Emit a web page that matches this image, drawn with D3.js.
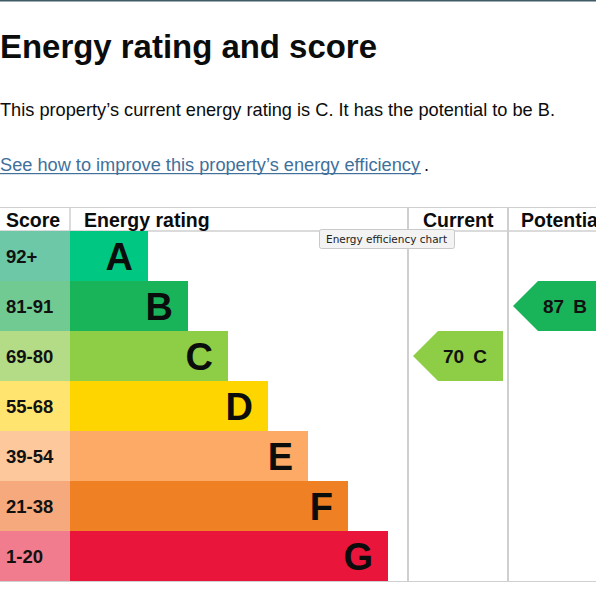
<!DOCTYPE html>
<html>
<head>
<meta charset="utf-8">
<script src="https://cdn.jsdelivr.net/npm/d3@7"></script>
<style>
  html, body { margin: 0; padding: 0; background: #fff; overflow: hidden; }
  svg { display: block; }
</style>
</head>
<body>
<svg id="chart" width="596" height="608"></svg>
<script>
// ---- data ----
const ratings = ["A", "B", "C", "D", "E", "F", "G"];
const scoreRanges = ["92+", "81-91", "69-80", "55-68", "39-54", "21-38", "1-20"];
const barColors = ["#00c781", "#19b459", "#8dce46", "#ffd500", "#fcaa65", "#ef8023", "#e9153b"];
const scoreColors = ["#6cc8a7", "#72ca93", "#b4dc87", "#ffe46f", "#fdc99c", "#f5a97c", "#f07c8d"];
const headers = ["Score", "Energy rating", "Current", "Potential"];
const currentScore = 70, currentRating = "C";
const potentialScore = 87, potentialRating = "B";

const title = "Energy rating and score";
const summary = "This property\u2019s current energy rating is C. It has the potential to be B.";
const linkText = "See how to improve this property\u2019s energy efficiency";
const tooltipText = "Energy efficiency chart";

// ---- layout ----
const W = 596;
const tableTop = 207, headTop = 231, tableBottom = 581;
const colScore = 0, colRating = 70, colCurrent = 408, colPotential = 508;
const gridColor = "#cfcfcf";
const bodyFont = "'Liberation Sans', Arial, sans-serif";

const svg = d3.select("#chart");

// top page rule
svg.append("rect").attr("x", 0).attr("y", 0).attr("width", W).attr("height", 1.5).attr("fill", "#3f5b66");

// heading & text
svg.append("text").attr("x", 0).attr("y", 57.5)
  .attr("font-family", bodyFont).attr("font-weight", "bold").attr("font-size", 34)
  .attr("textLength", 377).attr("lengthAdjust", "spacingAndGlyphs")
  .attr("fill", "#0b0c0c").text(title);

svg.append("text").attr("x", 0).attr("y", 115.5)
  .attr("font-family", bodyFont).attr("font-size", 18.5)
  .attr("textLength", 555).attr("lengthAdjust", "spacingAndGlyphs")
  .attr("fill", "#0b0c0c").text(summary);

svg.append("text").attr("x", 0).attr("y", 170.5)
  .attr("font-family", bodyFont).attr("font-size", 18)
  .attr("textLength", 420).attr("lengthAdjust", "spacingAndGlyphs")
  .attr("fill", "#41709b").text(linkText);
svg.append("rect").attr("x", 0).attr("y", 173).attr("width", 421).attr("height", 1.2).attr("fill", "#41709b");
svg.append("text").attr("x", 424).attr("y", 170.5)
  .attr("font-family", bodyFont).attr("font-size", 18).attr("fill", "#0b0c0c").text(".");

// ---- scales ----
const y = d3.scaleBand().domain(ratings).range([headTop, tableBottom]).padding(0);
const barEnd = d3.scaleLinear().domain([0, ratings.length - 1]).range([148, 388]);

const g = svg.append("g");

// grid lines
g.append("line").attr("x1", 0).attr("x2", W).attr("y1", tableTop + 0.5).attr("y2", tableTop + 0.5).attr("stroke", gridColor).attr("stroke-width", 1.2);
g.append("line").attr("x1", 0).attr("x2", W).attr("y1", headTop).attr("y2", headTop).attr("stroke", gridColor).attr("stroke-width", 1.5);
g.append("line").attr("x1", 0).attr("x2", W).attr("y1", tableBottom + 0.5).attr("y2", tableBottom + 0.5).attr("stroke", gridColor).attr("stroke-width", 1.2);
g.append("line").attr("x1", colRating).attr("x2", colRating).attr("y1", tableTop).attr("y2", headTop).attr("stroke", gridColor).attr("stroke-width", 1.5);
[colCurrent, colPotential].forEach(x => {
  g.append("line").attr("x1", x).attr("x2", x).attr("y1", tableTop).attr("y2", tableBottom).attr("stroke", gridColor).attr("stroke-width", 2);
});

// headers
const headX = [colScore + 6, colRating + 14, colCurrent + 15, colPotential + 13];
g.selectAll("text.head").data(headers).join("text").attr("class", "head")
  .attr("x", (d, i) => headX[i]).attr("y", 226.5)
  .attr("font-family", bodyFont).attr("font-weight", "bold").attr("font-size", 19.5)
  .attr("fill", "#0b0c0c").text(d => d);

// score cells
g.selectAll("rect.score").data(ratings).join("rect").attr("class", "score")
  .attr("x", colScore).attr("y", d => y(d)).attr("width", colRating - colScore).attr("height", y.bandwidth())
  .attr("fill", (d, i) => scoreColors[i]);
g.selectAll("text.score").data(ratings).join("text").attr("class", "score")
  .attr("x", colScore + 6).attr("y", d => y(d) + y.bandwidth() / 2 + 6.5)
  .attr("font-family", bodyFont).attr("font-weight", "bold").attr("font-size", 18.5)
  .attr("fill", "#111").text((d, i) => scoreRanges[i]);

// rating bars
g.selectAll("rect.bar").data(ratings).join("rect").attr("class", "bar")
  .attr("x", colRating).attr("y", d => y(d)).attr("width", (d, i) => barEnd(i) - colRating).attr("height", y.bandwidth())
  .attr("fill", (d, i) => barColors[i]);
g.selectAll("text.letter").data(ratings).join("text").attr("class", "letter")
  .attr("x", (d, i) => barEnd(i) - 15).attr("y", d => y(d) + y.bandwidth() / 2 + 13.5)
  .attr("text-anchor", "end")
  .attr("font-family", bodyFont).attr("font-weight", "bold").attr("font-size", 38)
  .attr("fill", "#0b0c0c").text(d => d);

// arrows
function arrow(colStart, score, rating) {
  const x0 = colStart + 5, x1 = colStart + 95, head = 25;
  const top = y(rating), bot = y(rating) + y.bandwidth(), cy = top + y.bandwidth() / 2;
  const idx = ratings.indexOf(rating);
  g.append("path")
    .attr("d", `M${x0},${cy}L${x0 + head},${top}L${x1},${top}L${x1},${bot}L${x0 + head},${bot}Z`)
    .attr("fill", barColors[idx]);
  const t = g.append("text").attr("x", x0 + 30).attr("y", cy + 6.5)
    .attr("font-family", bodyFont).attr("font-weight", "bold").attr("font-size", 19)
    .attr("fill", "#111");
  t.append("tspan").text(score);
  t.append("tspan").attr("dx", 9).text(rating);
}
arrow(colCurrent, currentScore, currentRating);
arrow(colPotential, potentialScore, potentialRating);

// native-style tooltip
const tip = svg.append("g");
tip.append("rect").attr("x", 319.5).attr("y", 229.5).attr("width", 135).attr("height", 19).attr("rx", 2)
  .attr("fill", "#f3f3f3").attr("stroke", "#c9c9c9");
tip.append("text").attr("x", 326).attr("y", 243)
  .attr("font-family", "'DejaVu Sans', sans-serif").attr("font-size", 11)
  .attr("textLength", 121).attr("lengthAdjust", "spacingAndGlyphs")
  .attr("fill", "#222").text(tooltipText);
</script>
</body>
</html>
